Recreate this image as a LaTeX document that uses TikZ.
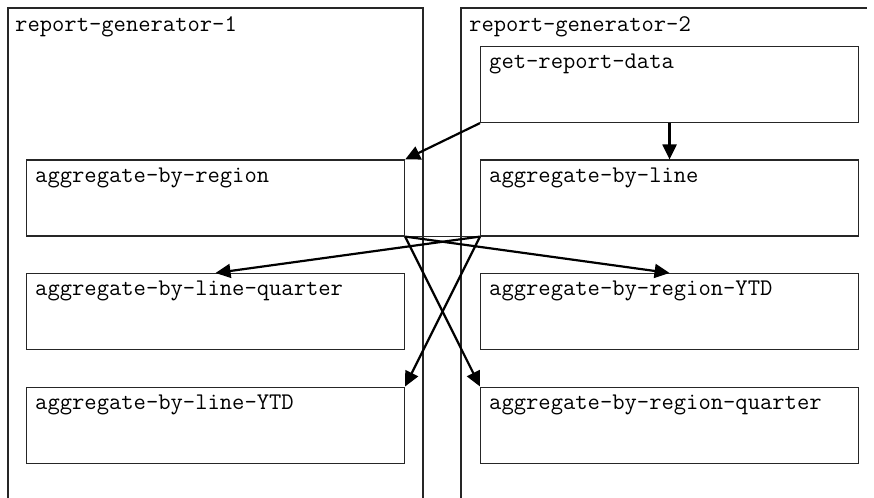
\documentclass[tikz,border=0pt]{standalone}
\usetikzlibrary{arrows.meta,calc}
\begin{document}
\begin{tikzpicture}[x=1bp,y=-1bp,
  frame/.style={draw=black!85,line width=1.1bp},
  task/.style={draw=black!85,line width=1.1bp,rectangle,inner sep=0pt,
    minimum width=378bp,minimum height=76bp,anchor=north west},
  caption/.style={anchor=base west,inner sep=0pt,
    font=\fontsize{24}{28}\selectfont\ttfamily},
  flow/.style={draw=black,line width=2.2bp,
    -{Triangle[length=15bp,width=14bp]}}]
  \useasboundingbox (0,0) rectangle (874,498);
  \clip (0,0) rectangle (874,498);
  % worker containers (open towards the bottom)
  \draw[frame] (8,520) -- (8,8) -- (423,8) -- (423,520);
  \draw[frame] (461,520) -- (461,8) -- (867,8);
  \node[caption] (g1) at (15,32) {report-generator-1};
  \node[caption] (g2) at (469,32) {report-generator-2};
  % tasks
  \node[task] (grd)  at (480,46)    {};
  \node[task] (abr)  at (26,159.5)  {};
  \node[task] (abl)  at (480,159.5) {};
  \node[task] (ablq) at (26,273)    {};
  \node[task] (abry) at (480,273)   {};
  \node[task] (ably) at (26,386.5)  {};
  \node[task] (abrq) at (480,386.5) {};
  \node[caption] (tgrd)  at ($(grd.north west)+(9,23)$)  {get-report-data};
  \node[caption] (tabr)  at ($(abr.north west)+(9,23)$)  {aggregate-by-region};
  \node[caption] (tabl)  at ($(abl.north west)+(9,23)$)  {aggregate-by-line};
  \node[caption] (tablq) at ($(ablq.north west)+(9,23)$) {aggregate-by-line-quarter};
  \node[caption] (tabry) at ($(abry.north west)+(9,23)$) {aggregate-by-region-YTD};
  \node[caption] (tably) at ($(ably.north west)+(9,23)$) {aggregate-by-line-YTD};
  \node[caption] (tabrq) at ($(abrq.north west)+(9,23)$) {aggregate-by-region-quarter};
  % dependencies
  \draw[frame] (abr.south east) -- (abl.south west);
  \draw[flow] (grd.south west) -- (abr.north east);
  \draw[flow] (grd.south) -- (abl.north);
  \draw[flow] (abr.south east) -- (abry.north);
  \draw[flow] (abr.south east) -- (abrq.north west);
  \draw[flow] (abl.south west) -- (ablq.north);
  \draw[flow] (abl.south west) -- (ably.north east);
\end{tikzpicture}
\end{document}
